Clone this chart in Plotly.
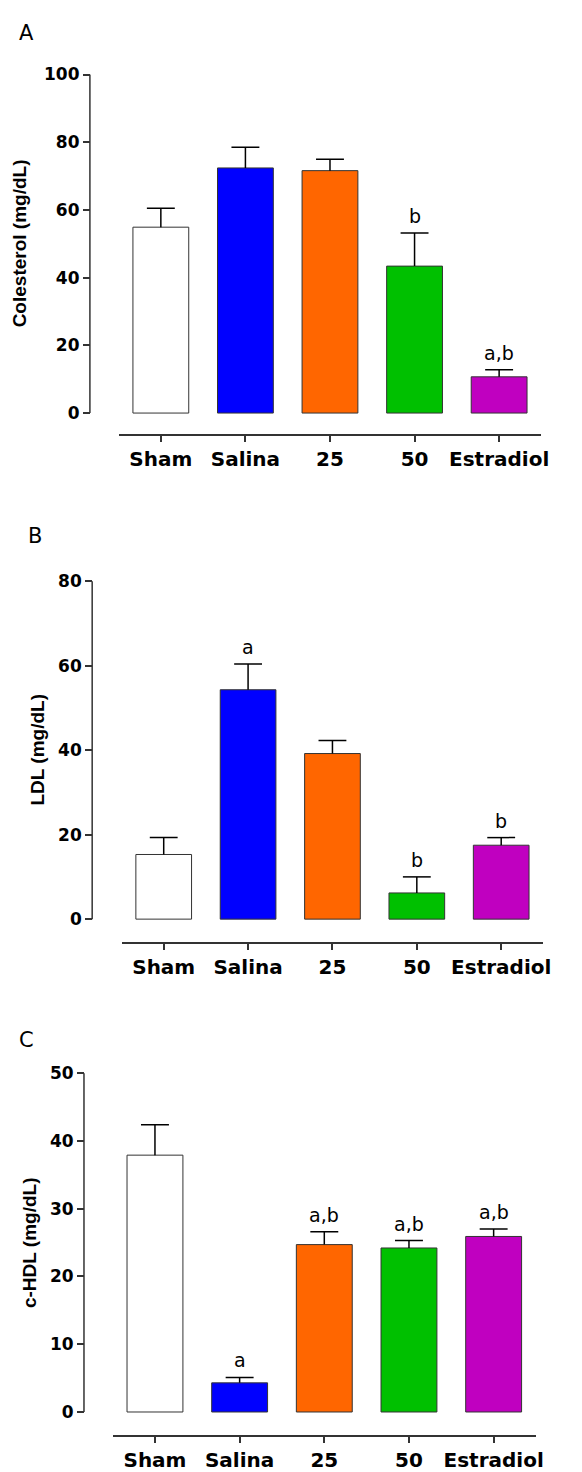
import plotly.graph_objects as go

# Group labels and bar fill colours (shared by all three panels)
groups = ["Sham", "Salina", "25", "50", "Estradiol"]
colors = ["#FFFFFF", "#0000FF", "#FF6600", "#00C000", "#C000C0"]

# Panel A: total cholesterol (mean and mean + SEM)
chol_mean = [54.9, 72.4, 71.6, 43.4, 10.7]
chol_top = [60.5, 78.5, 75.0, 53.2, 12.8]
chol_marks = ["", "", "", "b", "a,b"]

# Panel B: LDL
ldl_mean = [15.3, 54.3, 39.2, 6.2, 17.5]
ldl_top = [19.3, 60.4, 42.3, 10.0, 19.3]
ldl_marks = ["", "a", "", "b", "b"]

# Panel C: HDL
hdl_mean = [37.9, 4.3, 24.7, 24.2, 25.9]
hdl_top = [42.4, 5.1, 26.6, 25.3, 27.0]
hdl_marks = ["", "a", "a,b", "a,b", "a,b"]

W, H = 582, 1472
def fx(p):
    return p / W
def fy(p):
    return 1 - p / H

# layout of each panel in page pixels
panels = [
    dict(letter="A", title="Colesterol (mg/dL)", mean=chol_mean, top=chol_top, marks=chol_marks,
         ymax=100, dtick=20, yax_x=91, ytop=65, yzero=408.3, xline=430, xl=120, xr=548,
         title_x=20, letter_xy=(27, 23)),
    dict(letter="B", title="LDL (mg/dL)", mean=ldl_mean, top=ldl_top, marks=ldl_marks,
         ymax=80, dtick=20, yax_x=93.3, ytop=578.3, yzero=921, xline=944.3, xl=123, xr=550,
         title_x=38, letter_xy=(35, 533)),
    dict(letter="C", title="c-HDL (mg/dL)", mean=hdl_mean, top=hdl_top, marks=hdl_marks,
         ymax=50, dtick=10, yax_x=85, ytop=1076.7, yzero=1420.3, xline=1443.5, xl=114, xr=542.5,
         title_x=30, letter_xy=(26.5, 1043)),
]

AXC = "#333333"
TICKFONT = dict(family="DejaVu Sans", size=17, color="black", weight="bold")
CATFONT = dict(family="DejaVu Sans", size=20, color="black", weight="bold")
BAR_W = 0.66      # bar width in category units
CAP_HALF = 0.165  # half-width of the error-bar cap in category units

pos = list(range(len(groups)))

fig = go.Figure()
layout = dict(width=W, height=H, margin=dict(l=0, r=0, t=0, b=0),
              paper_bgcolor="white", plot_bgcolor="white", showlegend=False,
              shapes=[], annotations=[])

for i, p in enumerate(panels):
    n = "" if i == 0 else str(i + 1)
    xa, ya = "x" + n, "y" + n
    fig.add_trace(go.Bar(
        x=pos, y=p["mean"], xaxis=xa, yaxis=ya, width=BAR_W,
        marker=dict(color=colors, line=dict(color=AXC, width=1)),
        hoverinfo="skip",
    ))
    # upper-only error bars (stem from bar top plus a cap)
    ex, ey = [], []
    for k, m, t in zip(pos, p["mean"], p["top"]):
        ex += [k, k, None, k - CAP_HALF, k + CAP_HALF, None]
        ey += [m, t, None, t, t, None]
    fig.add_trace(go.Scatter(
        x=ex, y=ey, xaxis=xa, yaxis=ya, mode="lines",
        line=dict(color="black", width=1.5), hoverinfo="skip",
    ))
    scale = p["ymax"] / (p["yzero"] - p["ytop"])
    ymin = -(p["xline"] - p["yzero"]) * scale
    layout["xaxis" + n] = dict(
        domain=[fx(p["xl"]), fx(p["xr"])], anchor=ya, range=[-0.5, 4.5],
        tickmode="array", tickvals=pos, ticktext=groups,
        showline=True, linecolor=AXC, linewidth=1.5, ticks="outside", ticklen=6,
        tickwidth=1.5, tickcolor=AXC, tickfont=CATFONT, showgrid=False, zeroline=False,
        fixedrange=True,
    )
    layout["yaxis" + n] = dict(
        domain=[fy(p["xline"]), fy(p["ytop"])], anchor="free", position=fx(p["yax_x"]),
        range=[ymin, p["ymax"] * 1.001], tickmode="linear", tick0=0, dtick=p["dtick"],
        showline=False, ticks="outside", ticklen=7, tickwidth=1.5, tickcolor=AXC,
        tickfont=TICKFONT, showgrid=False, zeroline=False, fixedrange=True,
    )
    # vertical axis line spans only 0..max
    layout["shapes"].append(dict(type="line", xref="paper", yref=ya,
                                 x0=fx(p["yax_x"]), x1=fx(p["yax_x"]), y0=0, y1=p["ymax"],
                                 line=dict(color=AXC, width=1.5)))
    # y-axis title
    layout["annotations"].append(dict(
        text=p["title"], xref="paper", yref="paper", x=fx(p["title_x"]),
        y=fy((p["ytop"] + p["yzero"]) / 2), textangle=-90, showarrow=False,
        xanchor="center", yanchor="middle",
        font=dict(family="Liberation Sans", size=19, color="black", weight="bold")))
    # panel letter
    lx, ly = p["letter_xy"]
    layout["annotations"].append(dict(
        text=p["letter"], xref="paper", yref="paper", x=fx(lx), y=fy(ly),
        showarrow=False, xanchor="center", yanchor="middle",
        font=dict(family="DejaVu Sans", size=21, color="black")))
    # significance letters above the error caps
    for k, t, mk in zip(pos, p["top"], p["marks"]):
        if mk:
            layout["annotations"].append(dict(
                text=mk, xref=xa, yref=ya, x=k, y=t, yshift=17, showarrow=False,
                xanchor="center", yanchor="middle",
                font=dict(family="DejaVu Sans", size=19, color="black")))

fig.update_layout(**layout)
fig.write_html("out.html")
